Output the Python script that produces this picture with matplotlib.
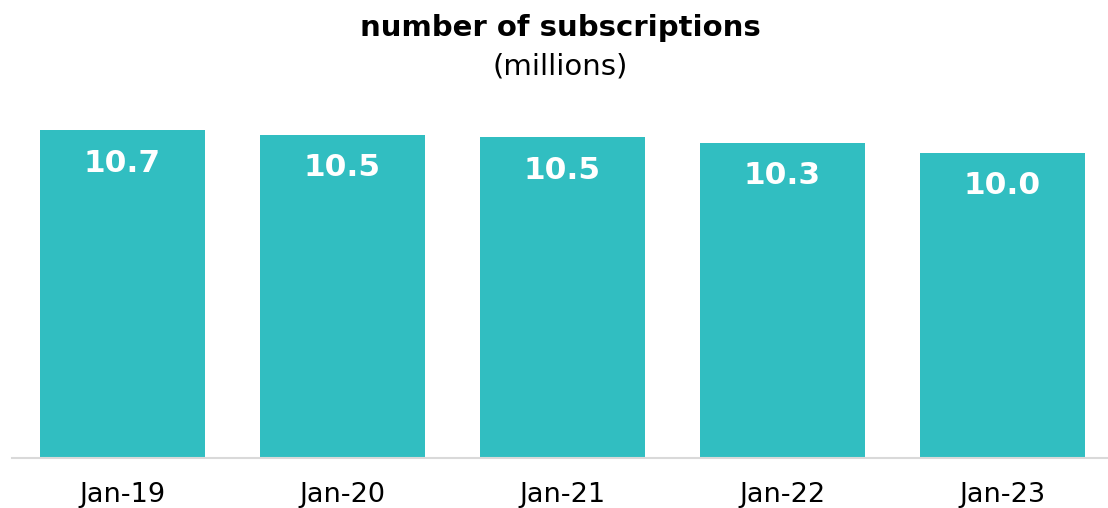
import numpy as np
import matplotlib.pyplot as plt

# subscriptions in millions, January of each year
periods = ["Jan-19", "Jan-20", "Jan-21", "Jan-22", "Jan-23"]
subscriptions = [10.70, 10.54, 10.47, 10.28, 9.96]

bar_color = "#31BEC1"

fig = plt.figure(figsize=(11.08, 5.08), dpi=100)
ax = fig.add_axes([12 / 1108, 50 / 508, 1096 / 1108, 358 / 508])

x = np.arange(len(periods))
bars = ax.bar(x, subscriptions, width=0.75, color=bar_color)

for rect, val in zip(bars, subscriptions):
    ax.annotate(f"{val:.1f}", (rect.get_x() + rect.get_width() / 2, val),
                xytext=(0, -33), textcoords="offset pixels",
                ha="center", va="center", color="white", fontsize=22.5,
                fontweight="bold")

ax.set_xlim(-0.5, 4.48)
ax.set_ylim(0, 11.68)
ax.set_xticks(x)
ax.set_xticklabels(periods, fontsize=19.5)
ax.tick_params(axis="x", length=0, pad=17)
ax.set_yticks([])
for side in ["top", "right", "left"]:
    ax.spines[side].set_visible(False)
ax.spines["bottom"].set_color("#d9d9d9")
ax.spines["bottom"].set_linewidth(1.5)

fig.text(560 / 1108, 1 - 28 / 508, "number of subscriptions", ha="center",
         va="center", fontsize=21, fontweight="bold")
fig.text(560 / 1108, 1 - 67 / 508, "(millions)", ha="center", va="center",
         fontsize=21)

fig.savefig("out.png", dpi=100)
